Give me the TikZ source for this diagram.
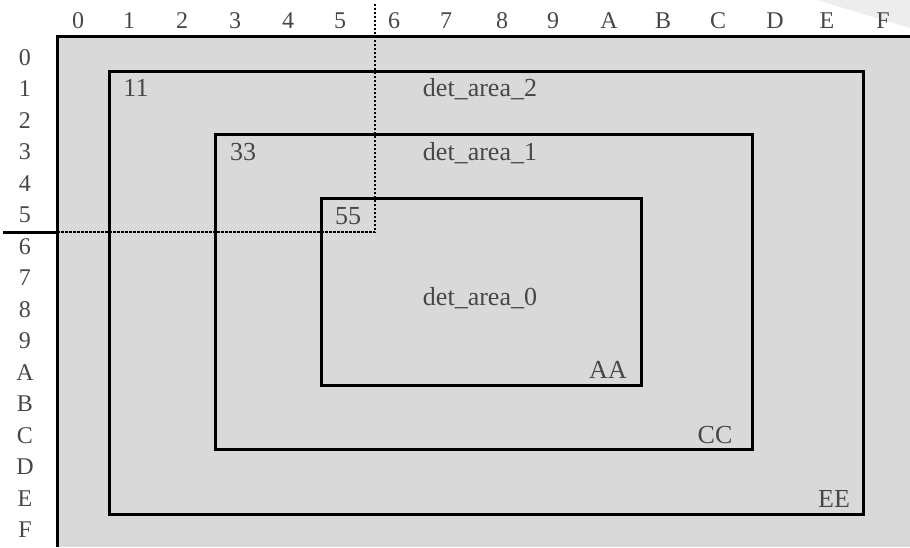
\documentclass[tikz,border=0pt]{standalone}
\usepackage{fontspec}
\setmainfont{Liberation Serif}
\begin{document}
\begin{tikzpicture}[x=1pt,y=-1pt,
  axis/.style={font=\fontsize{24}{28}\selectfont, text=black!72, inner sep=0pt, anchor=base},
  lbl/.style={font=\fontsize{26}{30}\selectfont, text=black!72, inner sep=0pt, anchor=base},
  area/.style={draw=black, line width=3pt},
  dotline/.style={line width=2.8pt, dash pattern=on 2.5pt off 1.5pt}]
\useasboundingbox (0,0) rectangle (910,547);
% faint corner shade
\fill[black!7] (817,0) -- (910,0) -- (910,28) -- cycle;
% grey field
\fill[gray!30] (57,36) rectangle (910,547);
\draw[line width=3pt] (57,547) -- (57,36) -- (910,36);
% areas
\draw[area] (109.5,71.5) rectangle (863,514);
\draw[area] (215,134) rectangle (752,449);
\draw[area] (321.5,198) rectangle (641,385.5);
% column labels
\foreach \t/\x [count=\i] in {0/78,1/129,2/182,3/235,4/288,5/340,6/394,7/446,8/502,9/553,A/609,B/663,C/718,D/775,E/827,F/883}
  \node[axis] (c\i) at (\x,28) {\t};
% row labels
\foreach \t [count=\i from 0] in {0,1,2,3,4,5,6,7,8,9,A,B,C,D,E,F}
  \node[axis] (r\i) at (25,65+31.5*\i) {\t};
% inner labels
\node[lbl] (n11) at (136,96) {11};
\node[lbl] (d2) at (480,96) {det\_area\_2};
\node[lbl] (n33) at (243,160) {33};
\node[lbl] (d1) at (480,160) {det\_area\_1};
\node[lbl] (n55) at (348,224) {55};
\node[lbl] (d0) at (480,305) {det\_area\_0};
\node[lbl] (aa) at (608,378) {AA};
\node[lbl] (cc) at (715,443) {CC};
\node[lbl] (ee) at (834,507) {EE};
% cross lines
\coordinate (hl) at (3,232);
\coordinate (hm) at (57,232);
\coordinate (cr) at (375,232);
\coordinate (vt) at (375,3);
\draw[line width=3pt] (hl) -- (hm);
\draw[dotline] (hm) -- (cr) -- (vt);
\end{tikzpicture}
\end{document}
